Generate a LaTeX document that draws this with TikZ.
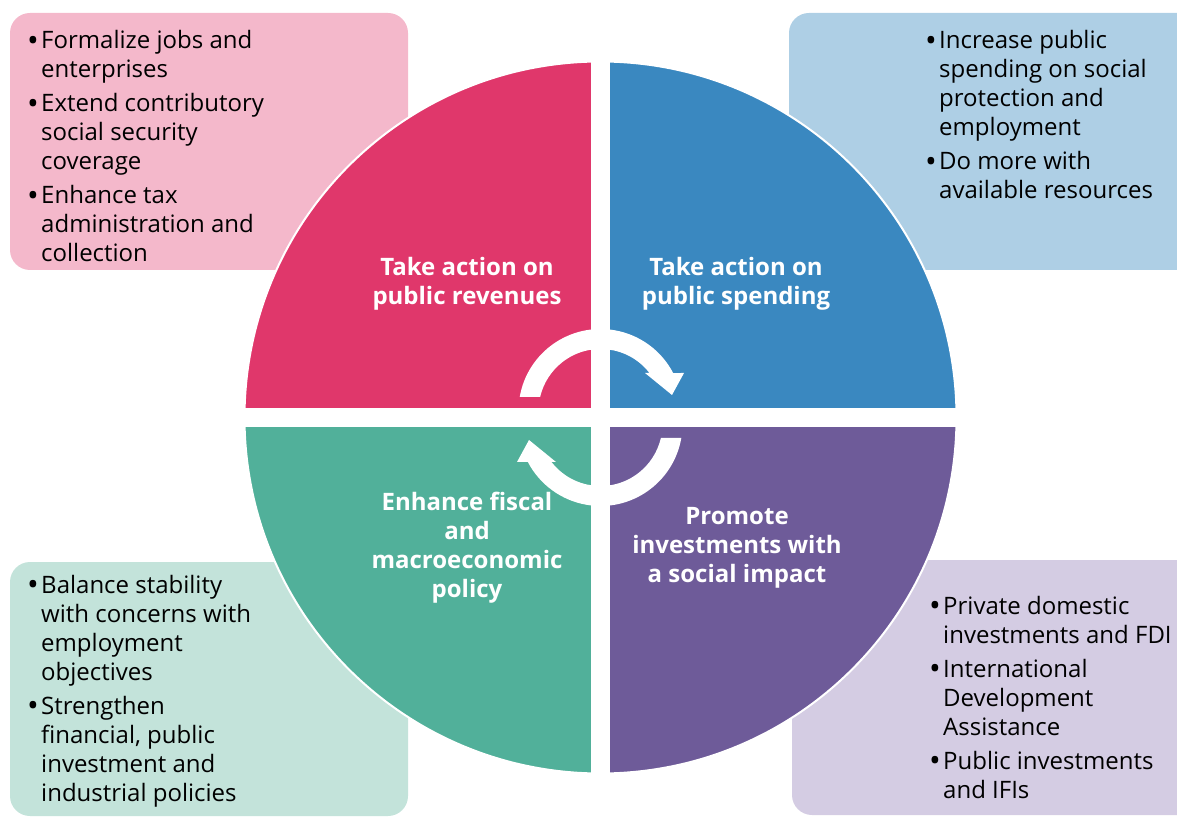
\documentclass[tikz,border=0pt]{standalone}
\usepackage{fontspec}
\setmainfont{Open Sans}
\definecolor{qpink}{HTML}{E0376B}
\definecolor{qblue}{HTML}{3A88C0}
\definecolor{qgreen}{HTML}{51B09A}
\definecolor{qpurple}{HTML}{6E5B99}
\definecolor{lpink}{HTML}{F4B8CB}
\definecolor{lblue}{HTML}{AECFE5}
\definecolor{lgreen}{HTML}{C3E3DA}
\definecolor{lpurple}{HTML}{D4CCE3}
\newcommand{\bul}{\makebox[14pt][l]{\raisebox{-2.8pt}{\scalebox{1.3}{\textbullet}}}}
\begin{document}
\begin{tikzpicture}[x=1pt,y=1pt,
  infobox/.style={rounded corners=20pt},
  listtext/.style={anchor=base west, inner sep=0pt, font=\fontsize{24}{29}\selectfont, text=black},
  quadlabel/.style={align=center, inner sep=0pt, text=white, font=\fontsize{24}{29}\selectfont\bfseries},
  cyclearrow/.style={fill=white}]
\useasboundingbox (0,0) rectangle (1177,817);
\clip (0,0) rectangle (1177,817);
% info boxes
\fill[lpink, infobox] (10,547) rectangle (408,804);
\fill[lblue, infobox] (789,547) rectangle (1200,804);
\fill[lgreen, infobox] (10,1) rectangle (408,255);
\fill[lpurple, infobox] (792,2) rectangle (1200,257);
% circle quadrants
\coordinate (C) at (600.5,399.5);
\fill[qpink] (C) -- ++(-356,0) arc[start angle=180,end angle=90,radius=356] -- cycle;
\fill[qblue] (C) -- ++(0,356) arc[start angle=90,end angle=0,radius=356] -- cycle;
\fill[qpurple] (C) -- ++(356,0) arc[start angle=0,end angle=-90,radius=356] -- cycle;
\fill[qgreen] (C) -- ++(0,-356) arc[start angle=270,end angle=180,radius=356] -- cycle;
\draw[white, line width=2pt] (C) circle[radius=356];
% white cross
\fill[white] (240,390) rectangle (961,409);
\fill[white] (591,40) rectangle (610,760);
% cycle arrows
\fill[cyclearrow] (519.7,420) arc[start angle=170.17,end angle=27.6,radius=82]
  -- (684,444) -- (672,422) -- (645,444) -- (649.5,444)
  arc[start angle=37.8,end angle=166.95,radius=62] -- cycle;
\begin{scope}[rotate around={180:(C)}]
\fill[cyclearrow] (519.7,420) arc[start angle=170.17,end angle=27.6,radius=82]
  -- (684,444) -- (672,422) -- (645,444) -- (649.5,444)
  arc[start angle=37.8,end angle=166.95,radius=62] -- cycle;
\end{scope}
% quadrant labels
\node[quadlabel] (rev) at (467,533) {Take action on\\public revenues};
\node[quadlabel] (spend) at (736,533) {Take action on\\public spending};
\node[quadlabel] (fiscal) at (467,269.5) {Enhance fiscal\\and\\macroeconomic\\policy};
\node[quadlabel] (invest) at (737,269.5) {Promote\\investments with\\a social impact};
% bullet lists
\node[listtext] (plist) at (27,768) {\begin{tabular}[t]{@{}l@{}l@{}}
\bul & Formalize jobs and\\
 & enterprises\\[5pt]
\bul & Extend contributory\\
 & social security\\
 & coverage\\[5pt]
\bul & Enhance tax\\
 & administration and\\
 & collection
\end{tabular}};
\node[listtext] (blist) at (925,768) {\begin{tabular}[t]{@{}l@{}l@{}}
\bul & Increase public\\
 & spending on social\\
 & protection and\\
 & employment\\[5pt]
\bul & Do more with\\
 & available resources
\end{tabular}};
\node[listtext] (glist) at (27,224) {\begin{tabular}[t]{@{}l@{}l@{}}
\bul & Balance stability\\
 & with concerns with\\
 & employment\\
 & objectives\\[5pt]
\bul & Strengthen\\
 & financial, public\\
 & investment and\\
 & industrial policies
\end{tabular}};
\node[listtext] (ulist) at (929,203) {\begin{tabular}[t]{@{}l@{}l@{}}
\bul & Private domestic\\
 & investments and FDI\\[5pt]
\bul & International\\
 & Development\\
 & Assistance\\[5pt]
\bul & Public investments\\
 & and IFIs
\end{tabular}};
\end{tikzpicture}
\end{document}
